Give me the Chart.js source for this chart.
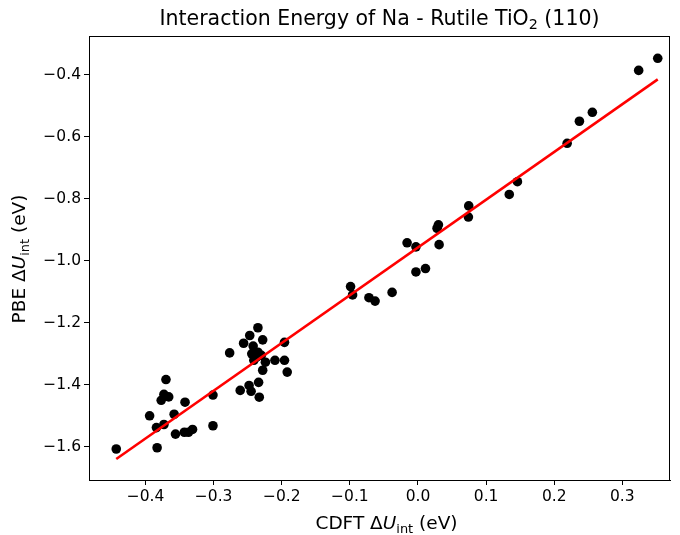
<!DOCTYPE html>
<html>
<head>
<meta charset="utf-8">
<script src="https://cdn.jsdelivr.net/npm/chart.js@4.4.1/dist/chart.umd.min.js"></script>
<style>
    html, body { margin: 0; padding: 0; background: #fff; }
</style>
</head>
<body>
<canvas id="chart" width="680" height="535"></canvas>
<script>
// CDFT interaction energies (x) and PBE interaction energies (y), eV
const cdftX = [
    0.352, 0.324, 0.256, 0.237, 0.219, 0.146, 0.134, 0.0745, 0.074, 0.030,
    0.028, 0.031, -0.016, -0.003, -0.003, 0.011, -0.038, -0.072, -0.063, -0.099,
    -0.096, -0.192, -0.196, -0.196, -0.210, -0.228, -0.224, -0.230, -0.235, -0.241,
    -0.244, -0.242, -0.228, -0.235, -0.247, -0.256, -0.237, -0.234, -0.233, -0.245,
    -0.248, -0.261, -0.2765, -0.301, -0.301, -0.331, -0.337, -0.343, -0.342, -0.356,
    -0.358, -0.366, -0.377, -0.373, -0.370, -0.373, -0.384, -0.394, -0.383, -0.443
];
const pbeY = [
    -0.347, -0.386, -0.521, -0.550, -0.621, -0.745, -0.786, -0.823, -0.859, -0.884,
    -0.895, -0.948, -0.942, -0.955, -1.036, -1.025, -1.102, -1.119, -1.130, -1.083,
    -1.110, -1.359, -1.263, -1.321, -1.321, -1.353, -1.327, -1.305, -1.295, -1.321,
    -1.300, -1.275, -1.255, -1.216, -1.241, -1.266, -1.311, -1.392, -1.440, -1.421,
    -1.402, -1.418, -1.297, -1.433, -1.532, -1.544, -1.553, -1.553, -1.456, -1.559,
    -1.495, -1.439, -1.450, -1.431, -1.383, -1.528, -1.538, -1.500, -1.603, -1.607
];

// linear fit
const fitSlope = 1.54;
const fitIntercept = -0.957;
const fitEnds = [-0.443, 0.352];

const xTicks = [-0.4, -0.3, -0.2, -0.1, 0.0, 0.1, 0.2, 0.3];
const yTicks = [-1.6, -1.4, -1.2, -1.0, -0.8, -0.6, -0.4];

const FONT = "'DejaVu Sans', sans-serif";

const fmt = (v, d) => {
    const s = Math.abs(v).toFixed(d);
    return (v < -1e-9 ? '\u2212' : '') + s;
};

// draws text runs (normal / italic / subscript) centred at 0,0
function drawRuns(ctx, runs, size) {
    const fontOf = r => (r.italic ? 'italic ' : '') + (r.sub ? size * 0.7 : size) + 'px ' + FONT;
    let total = 0;
    runs.forEach(r => { ctx.font = fontOf(r); total += ctx.measureText(r.t).width; });
    let x = -total / 2;
    ctx.textBaseline = 'middle';
    ctx.textAlign = 'left';
    runs.forEach(r => {
        ctx.font = fontOf(r);
        ctx.fillText(r.t, x, r.sub ? size * 0.28 : 0);
        x += ctx.measureText(r.t).width;
    });
}

const labelsPlugin = {
    id: 'labels',
    afterDraw(chart) {
        const ctx = chart.ctx;
        const a = chart.chartArea;
        ctx.save();
        // frame
        ctx.strokeStyle = '#000';
        ctx.lineWidth = 1;
        ctx.strokeRect(a.left + 0.5, a.top + 0.5, a.right - a.left - 1, a.bottom - a.top);
        ctx.fillStyle = '#000';
        const cx = (a.left + a.right) / 2;
        // title
        ctx.save();
        ctx.translate(cx, 20);
        drawRuns(ctx, [{ t: 'Interaction Energy of Na - Rutile TiO' }, { t: '2', sub: true }, { t: ' (110)' }], 20.5);
        ctx.restore();
        // x label
        ctx.save();
        ctx.translate(cx + 7, 524);
        drawRuns(ctx, [{ t: 'CDFT \u0394' }, { t: 'U', italic: true }, { t: 'int', sub: true }, { t: ' (eV)' }], 18.5);
        ctx.restore();
        // y label
        ctx.save();
        ctx.translate(20, (a.top + a.bottom) / 2 + 1);
        ctx.rotate(-Math.PI / 2);
        drawRuns(ctx, [{ t: 'PBE \u0394' }, { t: 'U', italic: true }, { t: 'int', sub: true }, { t: ' (eV)' }], 18.5);
        ctx.restore();
        ctx.restore();
    }
};

const points = cdftX.map((x, i) => ({ x: x, y: pbeY[i] }));
const fitLine = fitEnds.map(x => ({ x: x, y: fitSlope * x + fitIntercept }));

new Chart(document.getElementById('chart'), {
    type: 'scatter',
    data: {
        datasets: [
            {
                type: 'line',
                data: fitLine,
                borderColor: '#ff0000',
                borderWidth: 2.6,
                pointRadius: 0,
                fill: false,
                order: 0
            },
            {
                data: points,
                backgroundColor: '#000',
                borderColor: '#000',
                pointRadius: 4.8,
                borderWidth: 0,
                order: 1
            }
        ]
    },
    options: {
        responsive: false,
        animation: false,
        layout: { padding: { top: 36, right: 10, left: 0, bottom: 0 } },
        plugins: { legend: { display: false }, tooltip: { enabled: false } },
        scales: {
            x: {
                type: 'linear',
                min: -0.483,
                max: 0.37,
                afterBuildTicks: s => { s.ticks = xTicks.map(v => ({ value: v })); },
                afterFit: s => { s.height = 55; },
                grid: { drawOnChartArea: false, drawTicks: true, tickLength: 5, color: '#000' },
                border: { display: true, color: '#000' },
                ticks: {
                    color: '#000', padding: 3, maxRotation: 0,
                    font: { family: FONT, size: 15.5 },
                    callback: v => fmt(v, 1)
                }
            },
            y: {
                type: 'linear',
                min: -1.707,
                max: -0.275,
                afterBuildTicks: s => { s.ticks = yTicks.map(v => ({ value: v })); },
                afterFit: s => { s.width = 89; },
                grid: { drawOnChartArea: false, drawTicks: true, tickLength: 5, color: '#000' },
                border: { display: true, color: '#000' },
                ticks: {
                    color: '#000', padding: 3,
                    font: { family: FONT, size: 15.5 },
                    callback: v => fmt(v, 1)
                }
            }
        }
    },
    plugins: [labelsPlugin]
});
</script>
</body>
</html>
